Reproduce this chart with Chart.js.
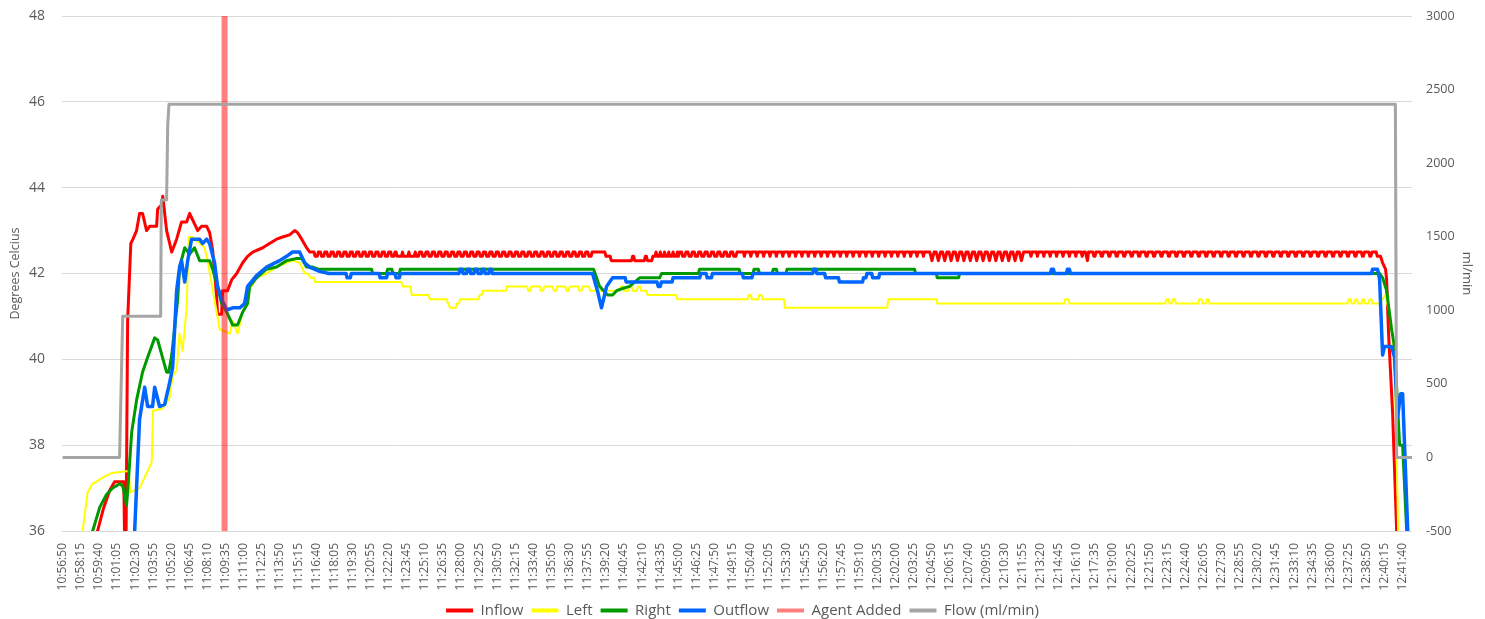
<!DOCTYPE html>
<html>
<head>
<meta charset="utf-8">
<title>Temperature and flow</title>
<script src="https://cdn.jsdelivr.net/npm/chart.js@4.4.1/dist/chart.umd.min.js"></script>
<style>
  html, body { margin: 0; padding: 0; background: #fff; }
  #wrap { width: 1485px; height: 619px; }
</style>
</head>
<body>
<div id="wrap"><canvas id="tempChart"></canvas></div>
<script>
// x tick labels, one every 85 s (17 samples of 5 s)
const timeLabels = [
    '10:56:50', '10:58:15', '10:59:40', '11:01:05', '11:02:30', '11:03:55', '11:05:20', '11:06:45',
    '11:08:10', '11:09:35', '11:11:00', '11:12:25', '11:13:50', '11:15:15', '11:16:40', '11:18:05',
    '11:19:30', '11:20:55', '11:22:20', '11:23:45', '11:25:10', '11:26:35', '11:28:00', '11:29:25',
    '11:30:50', '11:32:15', '11:33:40', '11:35:05', '11:36:30', '11:37:55', '11:39:20', '11:40:45',
    '11:42:10', '11:43:35', '11:45:00', '11:46:25', '11:47:50', '11:49:15', '11:50:40', '11:52:05',
    '11:53:30', '11:54:55', '11:56:20', '11:57:45', '11:59:10', '12:00:35', '12:02:00', '12:03:25',
    '12:04:50', '12:06:15', '12:07:40', '12:09:05', '12:10:30', '12:11:55', '12:13:20', '12:14:45',
    '12:16:10', '12:17:35', '12:19:00', '12:20:25', '12:21:50', '12:23:15', '12:24:40', '12:26:05',
    '12:27:30', '12:28:55', '12:30:20', '12:31:45', '12:33:10', '12:34:35', '12:36:00', '12:37:25',
    '12:38:50', '12:40:15', '12:41:40'
];

// all times are seconds after 10:56:50, values in degrees C / ml/min
const inflowRise = [
    [0, 35.0], [140, 35.6], [164, 36.0], [190, 36.5], [221, 36.95], [244, 37.15], [287, 37.15],
    [292, 35.4], [297, 35.4], [305, 40.9], [320, 42.7], [330, 42.8], [347, 43.0], [361, 43.4],
    [375, 43.4], [394, 43.0], [408, 43.1], [441, 43.1], [446, 43.5], [465, 43.6], [470, 43.8],
    [488, 43.0], [512, 42.5], [535, 42.8], [558, 43.2], [582, 43.2], [596, 43.4], [610, 43.25],
    [634, 43.0], [652, 43.1], [676, 43.1], [690, 42.95], [704, 42.55], [723, 41.45], [727, 41.05],
    [746, 41.05], [751, 41.6], [774, 41.6], [793, 41.85], [817, 42.0], [845, 42.25], [868, 42.4],
    [892, 42.5], [939, 42.6], [971, 42.7], [1004, 42.8], [1032, 42.85], [1065, 42.9], [1089, 43.0],
    [1103, 42.95], [1122, 42.8], [1145, 42.6], [1160, 42.5]
];
// steady inflow, one digit per 5 s sample from 1170 s: value = 42 + digit / 10
const inflowRippleStart = 1170;
const inflowRipple = [
    '555444 555444 555444 555444 555444 555444 555444 555444 555444 555444 555444 555444 555444 5544',
    '4445444445444445444',
    '555444 555444 555444 555444 555444 555444 555444 555444 555444',
    '555444 555444 555444 555444 555444 555444 555444 555444 555444',
    '555444 555444 555444 555444 555444 555444 555444 555444 555444',
    '5555555555555 44444 33333333333333333333 44 3333333333 44 33333',
    '4445 4445 4445 4445 4445 4445 4',
    '555444 555444 555444 555444 555444 555444 555444 555444 555444 55',
    '555554 555554 555554 555554 555554 555554 555554 555554 555554 555554',
    '555554 555554 555554 555554 555554 555554 555554 555554 555554 555554',
    '555554 555554 555554 555554 555554 555554 555554 555554 555554 5555',
    '554345 554345 554345 554345 554345 554345 554345 554345 554345 554345 554345 554345 554345 554345 554345 5',
    '555554 555554 555554 555554 555554 555554 555554 555554 555554 555',
    '43',
    '5555544 5555544 5555544 5555544 5555544 5555544 5555544 5555544 5555544 5555544 5555544 5555544 5555544',
    '5555544 5555544 5555544 5555544 5555544 5555544 5555544 5555544 5555544 5555544 5555544 5555544 5555544',
    '5555544 5555544 5555544 5555544 5555544 5555544 5555544 5555544 5555544 5555544 5555544 5555544 5555544'
];
const inflowFall = [
    [6185, 42.4], [6195, 42.25], [6209, 42.1], [6214, 41.85], [6223, 40.6], [6242, 38.75],
    [6261, 36.0], [6280, 34.5], [6333, 34.5]
];

const leftPts = [
    [0, 35.0], [70, 35.6], [94, 36.0], [117, 36.9], [140, 37.1], [160, 37.15], [188, 37.25],
    [230, 37.35], [310, 37.4], [318, 36.9], [361, 37.0], [394, 37.35], [418, 37.6], [424, 38.8],
    [469, 38.85], [502, 39.1], [516, 39.6], [535, 39.75], [549, 40.6], [563, 40.2], [582, 41.2],
    [592, 42.85], [610, 42.85], [643, 42.7], [666, 42.6], [680, 42.3], [723, 41.1], [737, 40.7],
    [784, 40.6], [798, 40.9], [821, 40.6], [845, 41.1], [868, 41.55], [910, 41.9], [957, 42.0],
    [1004, 42.15], [1051, 42.25], [1079, 42.3], [1112, 42.25], [1136, 42.0], [1150, 42.0],
    [1165, 41.9], [1180, 41.9], [1185, 41.8],
    [1590, 41.8], [1595, 41.7], [1633, 41.7], [1638, 41.5], [1718, 41.5], [1723, 41.4], [1803, 41.4],
    [1808, 41.3], [1812, 41.3], [1817, 41.2], [1845, 41.2], [1850, 41.3], [1860, 41.3], [1865, 41.4],
    [1952, 41.4], [1957, 41.5], [1966, 41.5], [1971, 41.6], [2080, 41.6], [2085, 41.7],
    [2180, 41.7], [2185, 41.6], [2195, 41.6], [2200, 41.7], [2240, 41.7], [2245, 41.6], [2255, 41.6],
    [2260, 41.7], [2300, 41.7], [2305, 41.6], [2315, 41.6], [2320, 41.7], [2360, 41.7], [2365, 41.6],
    [2375, 41.6], [2380, 41.7], [2420, 41.7], [2425, 41.6], [2435, 41.6], [2440, 41.7], [2470, 41.7],
    [2475, 41.6], [2615, 41.6], [2620, 41.7], [2630, 41.7], [2635, 41.6], [2655, 41.6], [2660, 41.7],
    [2670, 41.7], [2675, 41.6], [2695, 41.6], [2700, 41.7], [2710, 41.7], [2715, 41.6], [2740, 41.6],
    [2745, 41.5], [2880, 41.5], [2885, 41.4], [3215, 41.4], [3220, 41.5], [3230, 41.5], [3235, 41.4],
    [3265, 41.4], [3270, 41.5], [3280, 41.5], [3285, 41.4], [3385, 41.4], [3390, 41.2], [3870, 41.2],
    [3875, 41.4], [4100, 41.4], [4105, 41.3], [4700, 41.3], [4705, 41.4], [4720, 41.4], [4725, 41.3],
    [5175, 41.3], [5180, 41.4], [5190, 41.4], [5195, 41.3], [5205, 41.3], [5210, 41.4], [5220, 41.4],
    [5225, 41.3], [5330, 41.3], [5335, 41.4], [5345, 41.4], [5350, 41.3], [5365, 41.3], [5370, 41.4],
    [5378, 41.4], [5383, 41.3], [6030, 41.3], [6035, 41.4], [6045, 41.4], [6050, 41.3], [6063, 41.3],
    [6068, 41.4], [6075, 41.4], [6080, 41.3], [6096, 41.3], [6101, 41.4], [6108, 41.4], [6113, 41.3],
    [6129, 41.3], [6134, 41.4], [6142, 41.4], [6147, 41.3], [6181, 41.3],
    [6195, 41.4], [6208, 41.5], [6216, 41.3], [6228, 41.1], [6242, 40.5], [6252, 39.6], [6258, 38.5],
    [6268, 36.0], [6280, 34.5], [6333, 34.5]
];

const rightPts = [
    [0, 35.0], [80, 35.6], [141, 36.0], [174, 36.55], [206, 36.85], [235, 37.0], [268, 37.1],
    [282, 37.05], [300, 36.6], [305, 36.9], [324, 38.3], [347, 39.05], [375, 39.7], [399, 40.05],
    [432, 40.5], [446, 40.45], [488, 39.7], [498, 39.7], [512, 40.1], [540, 41.4], [549, 42.15],
    [573, 42.6], [596, 42.45], [619, 42.6], [643, 42.3], [690, 42.3], [704, 42.1], [727, 41.7],
    [746, 41.3], [770, 41.1], [798, 40.8], [821, 40.8], [845, 41.1], [868, 41.3], [878, 41.7],
    [910, 41.9], [957, 42.1], [1004, 42.15], [1051, 42.3], [1098, 42.35], [1122, 42.35],
    [1145, 42.15], [1173, 42.15], [1200, 42.1],
    [1450, 42.1], [1455, 42.0], [1520, 42.0], [1525, 42.1], [1545, 42.1], [1550, 42.0], [1580, 42.0],
    [1585, 42.1], [2492, 42.1], [2520, 41.7], [2558, 41.5], [2581, 41.5], [2600, 41.6], [2628, 41.65],
    [2661, 41.7], [2708, 41.9], [2802, 41.9], [2811, 42.0], [2984, 42.0], [2989, 42.1],
    [3175, 42.1], [3180, 42.0], [3240, 42.0], [3245, 42.1], [3265, 42.1], [3270, 42.0], [3330, 42.0],
    [3335, 42.1], [3350, 42.1], [3355, 42.0], [3395, 42.0], [3400, 42.1], [3998, 42.1], [4003, 42.0],
    [4100, 42.0], [4105, 41.9], [4205, 41.9], [4210, 42.0], [6181, 42.0],
    [6195, 41.9], [6214, 41.6], [6237, 40.7], [6251, 40.3], [6275, 38.0], [6289, 38.0], [6308, 36.0],
    [6320, 35.0], [6333, 35.0]
];

const outflowPts = [
    [0, 34.0], [300, 35.0], [338, 36.0], [361, 38.6], [385, 39.35], [399, 38.9], [422, 38.9],
    [432, 39.35], [455, 38.9], [479, 38.95], [502, 39.45], [516, 39.8], [535, 41.6], [549, 42.15],
    [558, 42.3], [573, 41.8], [587, 42.3], [605, 42.8], [643, 42.8], [657, 42.7], [676, 42.8],
    [690, 42.7], [713, 42.25], [727, 41.7], [746, 41.4], [770, 41.15], [798, 41.2], [831, 41.2],
    [854, 41.3], [868, 41.7], [910, 41.95], [957, 42.15], [1018, 42.3], [1051, 42.4], [1079, 42.5],
    [1112, 42.5], [1136, 42.25], [1159, 42.15], [1206, 42.05], [1250, 42.0],
    [1330, 42.0], [1335, 41.9], [1350, 41.9], [1355, 42.0], [1485, 42.0], [1490, 41.9], [1520, 41.9],
    [1525, 42.0], [1560, 42.0], [1565, 41.9], [1580, 41.9], [1585, 42.0],
    [1860, 42.0], [1865, 42.1], [1875, 42.1], [1880, 42.0], [1895, 42.0], [1900, 42.1], [1910, 42.1],
    [1915, 42.0], [1930, 42.0], [1935, 42.1], [1945, 42.1], [1950, 42.0], [1965, 42.0], [1970, 42.1],
    [1978, 42.1], [1983, 42.0], [2000, 42.0], [2005, 42.1], [2012, 42.1], [2017, 42.0],
    [2487, 42.0], [2510, 41.6], [2529, 41.2], [2553, 41.7], [2581, 41.9], [2640, 41.9], [2645, 41.8],
    [2790, 41.8], [2795, 41.7], [2805, 41.7], [2810, 41.8], [2860, 41.8], [2865, 41.9], [2990, 41.9],
    [2995, 42.0], [3020, 42.0], [3025, 41.9], [3045, 41.9], [3050, 42.0], [3190, 42.0], [3195, 41.9],
    [3235, 41.9], [3240, 42.0], [3520, 42.0], [3525, 42.1], [3535, 42.1], [3540, 42.0],
    [3576, 42.0], [3581, 41.9], [3641, 41.9], [3646, 41.8], [3754, 41.8], [3759, 41.9], [3770, 41.9],
    [3775, 42.0], [3797, 42.0], [3802, 41.9], [3830, 41.9], [3835, 42.0],
    [4636, 42.0], [4641, 42.1], [4650, 42.1], [4655, 42.0], [4711, 42.0], [4716, 42.1], [4725, 42.1],
    [4730, 42.0], [6143, 42.0], [6148, 42.1], [6171, 42.1], [6176, 42.0],
    [6181, 41.85], [6195, 40.1], [6204, 40.3], [6237, 40.3], [6251, 40.05], [6265, 38.65],
    [6280, 39.2], [6289, 39.2], [6313, 36.0], [6325, 35.0], [6333, 35.0]
];

const agentPts = [[760, 36], [760, 48]];

const flowPts = [
    [0, 0], [267, 0], [282, 960], [460, 960], [463, 1750], [488, 1750], [493, 2250], [499, 2400],
    [6255, 2400], [6261, 0], [6333, 0]
];

function toSec(label) {
    const [h, m, s] = label.split(':').map(Number);
    return h * 3600 + m * 60 + s;
}
const tickSecs = timeLabels.map(l => toSec(l) - toSec(timeLabels[0]));

const rippleDigits = inflowRipple.join('').replace(/\s/g, '');
const inflowSteady = [...rippleDigits].map((d, i) => [inflowRippleStart + i * 5, 42 + Number(d) / 10]);
const inflowPts = inflowRise.concat(inflowSteady, inflowFall);

const xy = pts => pts.map(([x, y]) => ({ x, y }));

Chart.defaults.font.family = "'Open Sans', sans-serif";
Chart.defaults.color = '#595959';

function line(label, pts, color, width, order, axis) {
    return {
        label: label,
        data: xy(pts),
        borderColor: color,
        backgroundColor: color,
        borderWidth: width,
        pointRadius: 0,
        tension: 0,
        borderJoinStyle: 'round',
        order: order,
        yAxisID: axis || 'y'
    };
}

const agentSet = line('Agent Added', agentPts, 'rgba(255, 0, 0, 0.5)', 6, 2);
agentSet.borderJoinStyle = 'miter';

// vertical axes: fixed width, no extra room above/below the plot for their labels
function fixVertical(width) {
    return scale => {
        scale.width = width;
        scale.paddingTop = 0;
        scale.paddingBottom = 0;
    };
}

new Chart(document.getElementById('tempChart').getContext('2d'), {
    type: 'line',
    data: {
        datasets: [
            line('Inflow', inflowPts, '#FF0000', 3, 6),
            line('Left', leftPts, '#FFFF00', 2, 5),
            line('Right', rightPts, '#009900', 3, 4),
            line('Outflow', outflowPts, '#0066FF', 3.5, 3),
            agentSet,
            line('Flow (ml/min)', flowPts, '#A5A5A5', 3, 1, 'y1')
        ]
    },
    options: {
        responsive: true,
        maintainAspectRatio: false,
        animation: false,
        events: [],
        layout: { padding: { top: 16, left: 0, right: 0, bottom: -9 } },
        plugins: {
            tooltip: { enabled: false },
            legend: {
                position: 'bottom',
                labels: {
                    boxWidth: 27,
                    boxHeight: 4,
                    padding: 8,
                    color: '#595959',
                    font: { size: 15 },
                    generateLabels: chart => chart.data.datasets.map((d, i) => ({
                        text: d.label,
                        fillStyle: d.borderColor,
                        strokeStyle: d.borderColor,
                        lineWidth: 0,
                        hidden: false,
                        datasetIndex: i,
                        fontColor: '#595959'
                    }))
                }
            }
        },
        scales: {
            x: {
                type: 'linear',
                min: -3,
                max: 6333,
                grid: { display: false },
                border: { display: false },
                afterBuildTicks: axis => {
                    axis.ticks = tickSecs.map(v => ({ value: v }));
                },
                afterFit: scale => { scale.height = 64; },
                ticks: {
                    autoSkip: false,
                    minRotation: 90,
                    maxRotation: 90,
                    padding: 4,
                    font: { size: 12 },
                    color: '#595959',
                    callback: (value, index) => timeLabels[index]
                }
            },
            y: {
                position: 'left',
                min: 36,
                max: 48,
                grid: { color: '#D9D9D9', drawTicks: false },
                border: { display: false },
                afterFit: fixVertical(62),
                ticks: { stepSize: 2, padding: 17, font: { size: 14 }, color: '#595959' },
                title: {
                    display: true,
                    text: 'Degrees Celcius',
                    color: '#595959',
                    font: { size: 12.5 },
                    padding: { top: 8, bottom: 0 }
                }
            },
            y1: {
                position: 'right',
                min: -500,
                max: 3000,
                grid: { display: false, drawTicks: false },
                border: { display: false },
                afterFit: fixVertical(73),
                ticks: {
                    stepSize: 500,
                    padding: 14,
                    font: { size: 12.5 },
                    color: '#595959',
                    callback: value => String(value)
                },
                title: {
                    display: true,
                    text: 'ml/min',
                    color: '#595959',
                    font: { size: 13 },
                    padding: { top: 10, bottom: 0 }
                }
            }
        }
    }
});
</script>
</body>
</html>
